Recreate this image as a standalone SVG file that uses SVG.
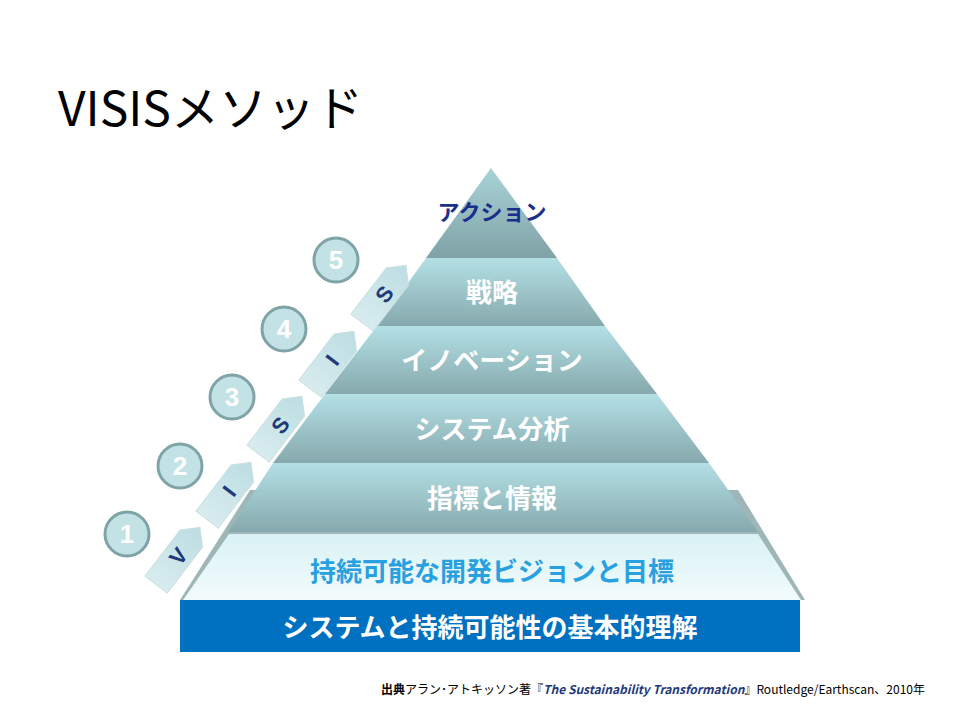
<svg xmlns="http://www.w3.org/2000/svg" width="960" height="720" viewBox="0 0 960 720">
<defs>
<linearGradient id="tier" x1="0" y1="0" x2="0" y2="1"><stop offset="0" stop-color="#b3e0e5"/><stop offset="1" stop-color="#86a9ad"/></linearGradient>
<linearGradient id="top" x1="0" y1="0" x2="0" y2="1"><stop offset="0" stop-color="#a9d3d8"/><stop offset="1" stop-color="#7fa2a6"/></linearGradient>
<linearGradient id="light" x1="0" y1="0" x2="0" y2="1"><stop offset="0" stop-color="#d9f2f5"/><stop offset="1" stop-color="#f2fbfc"/></linearGradient>
<linearGradient id="arr" x1="0" y1="0" x2="1" y2="0"><stop offset="0" stop-color="#d8ecef"/><stop offset="1" stop-color="#bcdde2"/></linearGradient>
<style>
.t{font-family:"Noto Sans CJK JP",sans-serif;font-weight:bold;text-anchor:middle}
.w{fill:#fff;font-size:26px}
.c{fill:#c3e2e6;stroke:#7fa3a6;stroke-width:3}
.n{font-family:"Liberation Sans",sans-serif;font-weight:bold;font-size:26px;fill:#fff;text-anchor:middle}
.a{fill:url(#arr);stroke:#c9dfe2;stroke-width:1}
.l{font-family:"Liberation Sans",sans-serif;font-weight:bold;font-size:22px;fill:#1f3a7a;text-anchor:middle}
</style>
</defs>
<rect width="960" height="720" fill="#fff"/>
<text x="58" y="126" font-family="Noto Sans CJK JP,sans-serif" font-size="48" fill="#000">VISISメソッド</text>
<g id="base-outline"><polygon points="250,490 738,490 805,600 180,600" fill="#9fb6b8"/></g>
<g id="tier-vision"><polygon points="229,534 758,534 801,600 183,600" fill="url(#light)"/><text class="t" x="492" y="581" font-size="26" fill="#29a0df">持続可能な開発ビジョンと目標</text></g>
<g id="tier-base"><rect x="180" y="600" width="620" height="52" fill="#0070c0"/><text class="t w" x="490" y="637" font-size="27">システムと持続可能性の基本的理解</text></g>
<g id="tier-1"><polygon points="273,463 709,463 758,532 228,532" fill="url(#tier)"/><text class="t w" x="492" y="508">指標と情報</text></g>
<g id="tier-2"><polygon points="325,394 657,394 709,463 273,463" fill="url(#tier)"/><text class="t w" x="492" y="439">システム分析</text></g>
<g id="tier-3"><polygon points="377,326 605,326 657,394 325,394" fill="url(#tier)"/><text class="t w" x="492" y="370">イノベーション</text></g>
<g id="tier-4"><polygon points="426,258 557,258 605,326 377,326" fill="url(#tier)"/><text class="t w" x="492" y="302">戦略</text></g>
<g id="tier-top"><polygon points="491,168 557,258 426,258" fill="url(#top)"/><text class="t" x="492" y="220" font-size="22" fill="#1a2f8a">アクション</text></g>
<g id="steps">
<g transform="translate(178,556) rotate(-52.6)"><polygon class="a" points="-36,-14 22,-14 36,0 22,14 -36,14"/><text class="l" x="0" y="8">V</text></g>
<g transform="translate(229,491) rotate(-52.6)"><polygon class="a" points="-36,-14 22,-14 36,0 22,14 -36,14"/><text class="l" x="0" y="8">I</text></g>
<g transform="translate(280,425) rotate(-52.6)"><polygon class="a" points="-36,-14 22,-14 36,0 22,14 -36,14"/><text class="l" x="0" y="8">S</text></g>
<g transform="translate(332,360) rotate(-52.6)"><polygon class="a" points="-36,-14 22,-14 36,0 22,14 -36,14"/><text class="l" x="0" y="8">I</text></g>
<g transform="translate(384,294) rotate(-52.6)"><polygon class="a" points="-36,-14 22,-14 36,0 22,14 -36,14"/><text class="l" x="0" y="8">S</text></g>
<circle class="c" cx="127" cy="534" r="22"/><text class="n" x="127" y="543">1</text>
<circle class="c" cx="180" cy="466" r="22"/><text class="n" x="180" y="475">2</text>
<circle class="c" cx="232" cy="397" r="22"/><text class="n" x="232" y="406">3</text>
<circle class="c" cx="284" cy="329" r="22"/><text class="n" x="284" y="338">4</text>
<circle class="c" cx="336" cy="260" r="22"/><text class="n" x="336" y="269">5</text>
</g>
<text x="925" y="694" text-anchor="end" font-family="Noto Sans CJK JP,sans-serif" font-size="12" fill="#000"><tspan font-weight="bold">出典</tspan>アラン･アトキッソン著『<tspan font-weight="bold" font-style="italic" fill="#1f3a7a">The Sustainability Transformation</tspan>』Routledge/Earthscan、2010年</text>
</svg>
